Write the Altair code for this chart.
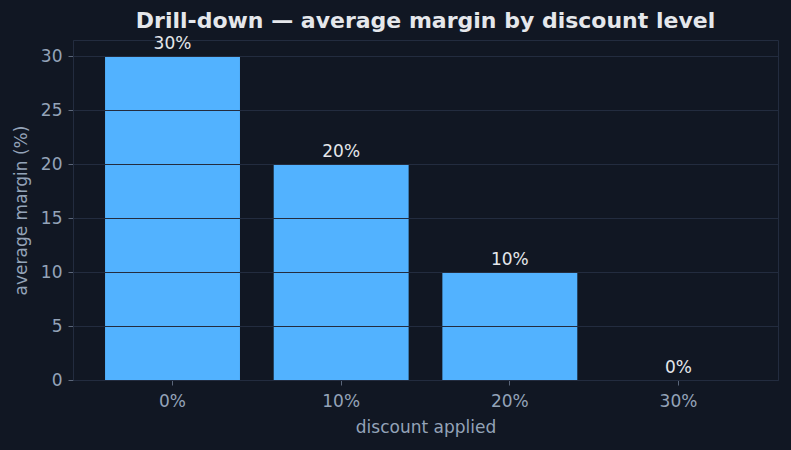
import altair as alt
import pandas as pd
import jinja2

discounts = ["0%", "10%", "20%", "30%"]
margins = [30, 20, 10, 0]
labels = ["30%", "20%", "10%", "0%"]

df = pd.DataFrame({"discount": discounts, "margin": margins, "label": labels})

BG = "#111723"
GRID = "#232c3f"
TXT = "#94a3b8"
FONT = "DejaVu Sans"

base = alt.Chart(df)

x = alt.X("discount:N", sort=discounts, title="discount applied",
          scale=alt.Scale(paddingInner=0.2, paddingOuter=0.19),
          axis=alt.Axis(labelAngle=0, grid=False, domainColor=GRID, tickColor="#5b667a",
                        tickSize=5, labelColor=TXT, titleColor=TXT, labelFontSize=17,
                        titleFontSize=17, labelPadding=8, titlePadding=10,
                        labelFont=FONT, titleFont=FONT, titleFontWeight="normal"))
y = alt.Y("margin:Q", title="average margin (%)",
          scale=alt.Scale(domain=[0, 31.5], nice=False),
          axis=alt.Axis(values=[0, 5, 10, 15, 20, 25, 30], grid=True, gridColor=GRID,
                        gridWidth=1, domainColor=GRID, tickColor="#5b667a", tickSize=5,
                        labelColor=TXT, titleColor=TXT, labelFontSize=17, titleFontSize=17,
                        labelPadding=6, titlePadding=10, labelFont=FONT, titleFont=FONT,
                        titleFontWeight="normal", zindex=1))

bars = base.mark_bar(color="#52b2ff").encode(x=x, y=y)
text = base.mark_text(baseline="alphabetic", dy=-7, fontSize=17, color="#e5e7eb", font=FONT).encode(
    x=alt.X("discount:N", sort=discounts), y="margin:Q", text="label:N")

chart = (bars + text).properties(
    width=705, height=340,
    background=BG,
    padding={"left": 65, "top": 32, "right": 5, "bottom": 61},
    autosize=alt.AutoSizeParams(type="none"),
    title=alt.TitleParams("Drill-down — average margin by discount level", fontSize=22,
                          font=FONT, fontWeight="bold", color="#e5e7eb", anchor="middle",
                          offset=2),
).configure_view(stroke=GRID, strokeWidth=1)

PAGE = jinja2.Template("""<!DOCTYPE html>
<html>
<head>
  <style>
    html, body { background: """ + BG + """; }
    #{{ output_div }}.vega-embed { width: 100%; display: flex; }
  </style>
  <script type="text/javascript" src="{{ base_url }}/vega@{{ vega_version }}"></script>
  <script type="text/javascript" src="{{ base_url }}/vega-lite@{{ vegalite_version }}"></script>
  <script type="text/javascript" src="{{ base_url }}/vega-embed@{{ vegaembed_version }}"></script>
</head>
<body>
<div id="{{ output_div }}"></div>
<script>
  (function(vegaEmbed) {
    var spec = {{ spec }};
    var embedOpt = {{ embed_options }};
    const el = document.getElementById('{{ output_div }}');
    vegaEmbed("#{{ output_div }}", spec, embedOpt).catch(function(error) {
      el.innerHTML = '<div style="color:red;">' + error.message + '</div>';
    });
  })(vegaEmbed);
</script>
</body>
</html>
""")

chart.save("out.html", embed_options={"renderer": "svg", "actions": False}, template=PAGE)
